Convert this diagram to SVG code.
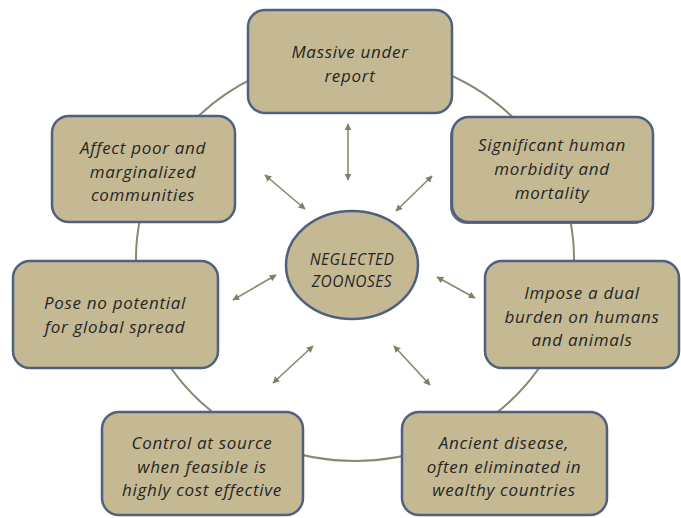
<svg xmlns="http://www.w3.org/2000/svg" width="681" height="518" viewBox="0 0 681 518">
<style>
.box{fill:#c5b993;stroke:#4f6180;stroke-width:2.5}
.shadow{fill:#6a7284;stroke:none}
.ring{fill:none;stroke:#868a70;stroke-width:2}
.arr{stroke:#868a6c;stroke-width:1.6;fill:none;marker-start:url(#ah);marker-end:url(#ah)}
text{font-family:"Open Sans","Liberation Sans",sans-serif;font-style:italic;font-size:17px;letter-spacing:0.7px;fill:#262626;text-anchor:middle}
.c{font-size:15.5px;letter-spacing:0.5px}
</style>
<defs>
<marker id="ah" viewBox="0 0 10 10" refX="9" refY="5" markerWidth="7" markerHeight="7" orient="auto-start-reverse" markerUnits="userSpaceOnUse">
<path d="M0,0 L10,5 L0,10 z" fill="#7d8264"/>
</marker>
</defs>
<rect width="681" height="518" fill="#ffffff"/>
<ellipse class="ring" cx="355" cy="258" rx="219" ry="203"/>
<g id="connectors">
<line class="arr" x1="348" y1="124" x2="348" y2="180"/>
<line class="arr" x1="265" y1="175" x2="305" y2="209"/>
<line class="arr" x1="432" y1="176" x2="396" y2="211"/>
<line class="arr" x1="233" y1="300" x2="276" y2="275"/>
<line class="arr" x1="437" y1="277" x2="475" y2="298"/>
<line class="arr" x1="273" y1="383" x2="313" y2="346"/>
<line class="arr" x1="394" y1="346" x2="430" y2="385"/>
</g>
<g id="center">
<ellipse cx="352" cy="265" rx="66" ry="54" fill="#c5b993" stroke="#4f6180" stroke-width="2.5"/>
<text class="c" x="352" y="265">NEGLECTED</text>
<text class="c" x="352" y="287">ZOONOSES</text>
</g>
<g id="n-top">
<rect class="box" x="248" y="10" width="204" height="103" rx="17"/>
<text x="350" y="58">Massive under</text>
<text x="350" y="82">report</text>
</g>
<g id="n-topright">
<rect class="shadow" x="450" y="119" width="201" height="105" rx="17"/>
<rect class="box" x="452" y="117" width="201" height="105" rx="17"/>
<text x="552" y="151">Significant human</text>
<text x="552" y="175">morbidity and</text>
<text x="552" y="199">mortality</text>
</g>
<g id="n-topleft">
<rect class="box" x="52" y="116" width="183" height="106" rx="17"/>
<text x="143" y="154">Affect poor and</text>
<text x="143" y="178">marginalized</text>
<text x="143" y="201">communities</text>
</g>
<g id="n-left">
<rect class="box" x="13" y="261" width="205" height="107" rx="17"/>
<text x="115" y="309">Pose no potential</text>
<text x="115" y="333">for global spread</text>
</g>
<g id="n-right">
<rect class="box" x="485" y="261" width="194" height="107" rx="17"/>
<text x="582" y="299">Impose a dual</text>
<text x="582" y="323">burden on humans</text>
<text x="582" y="346">and animals</text>
</g>
<g id="n-bottomleft">
<rect class="box" x="102" y="412" width="201" height="103" rx="17"/>
<text x="202" y="449">Control at source</text>
<text x="202" y="473">when feasible is</text>
<text x="202" y="496">highly cost effective</text>
</g>
<g id="n-bottomright">
<rect class="box" x="402" y="412" width="205" height="103" rx="17"/>
<text x="504" y="449">Ancient disease,</text>
<text x="504" y="473">often eliminated in</text>
<text x="504" y="496">wealthy countries</text>
</g>
</svg>
